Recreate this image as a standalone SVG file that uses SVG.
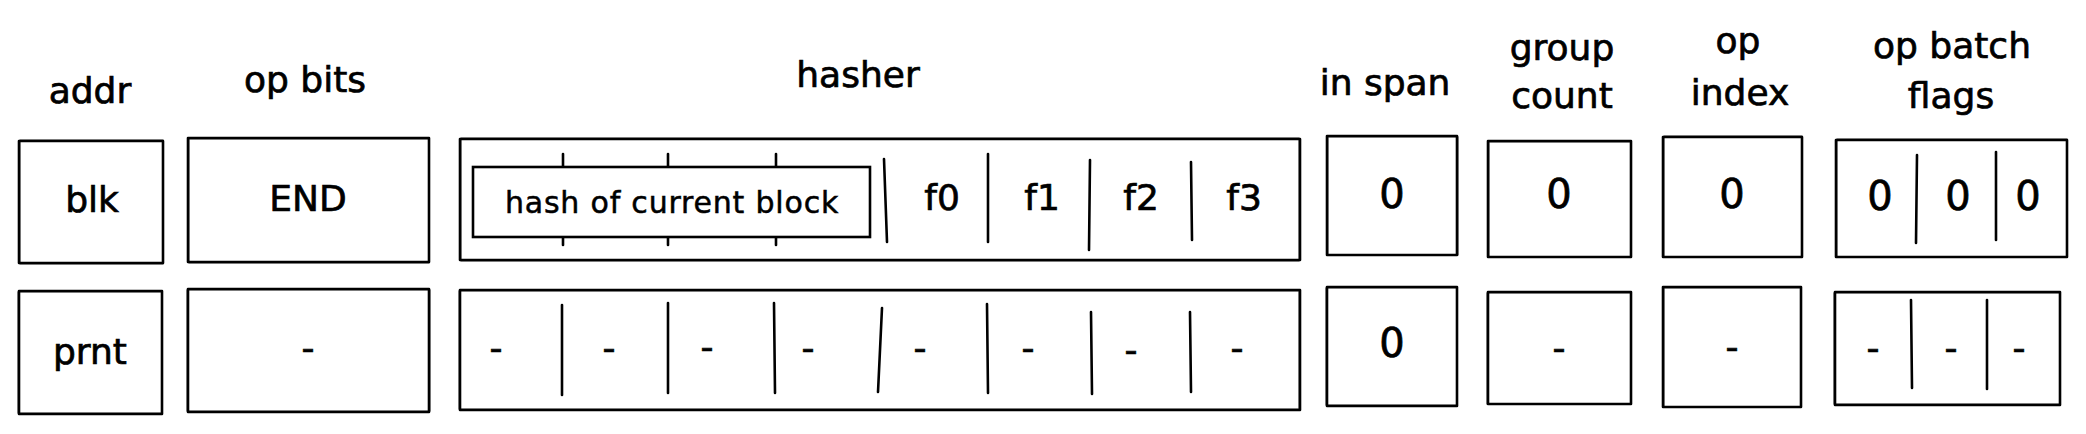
<svg xmlns="http://www.w3.org/2000/svg" width="2086" height="434" viewBox="0 0 2086 434">
<style>
.bg{fill:#ffffff}
.box{fill:none;stroke:#000;stroke-width:2.6;stroke-linejoin:round}
.box2{fill:none;stroke:#000;stroke-width:1;opacity:0.7}
.inner{fill:#ffffff;stroke:#000;stroke-width:2.6}
.div{stroke:#000;stroke-width:2.6;stroke-linecap:round;fill:none}
.h,.v,.z,.s{font-family:"DejaVu Sans","Open Sans",sans-serif;fill:#000;text-anchor:middle;stroke:#000;stroke-width:0.7}
.h{font-size:36px}
.v{font-size:36px}
.z{font-size:40px}
.s{font-size:30px;letter-spacing:0.8px;stroke-width:0.5}
</style>
<rect class="bg" x="0" y="0" width="2086" height="434"/>

<g id="headers">
<text class="h" x="90" y="103">addr</text>
<text class="h" x="305" y="92">op bits</text>
<text class="h" x="858" y="87">hasher</text>
<text class="h" x="1385" y="95">in span</text>
<text class="h" x="1562" y="60">group</text>
<text class="h" x="1562" y="108">count</text>
<text class="h" x="1738" y="53">op</text>
<text class="h" x="1740" y="105">index</text>
<text class="h" x="1952" y="58">op batch</text>
<text class="h" x="1951" y="108">flags</text>
</g>

<g id="addr-blk">
<rect class="box" x="19" y="141" width="144" height="122"/>
<rect class="box2" x="20" y="140" width="143" height="124"/>
<text class="v" x="92" y="212">blk</text>
</g>
<g id="addr-prnt">
<rect class="box" x="19" y="291" width="143" height="123"/>
<rect class="box2" x="18" y="292" width="144" height="121"/>
<text class="v" x="90" y="364">prnt</text>
</g>

<g id="opbits-1">
<rect class="box" x="188" y="138" width="241" height="124"/>
<rect class="box2" x="189" y="139" width="240" height="124"/>
<text class="v" x="308" y="211">END</text>
</g>
<g id="opbits-2">
<rect class="box" x="188" y="289" width="241" height="123"/>
<rect class="box2" x="187" y="290" width="243" height="121"/>
<text class="v" x="308" y="360">-</text>
</g>

<g id="hasher-1">
<rect class="box" x="460" y="139" width="840" height="121"/>
<rect class="box2" x="461" y="138" width="838" height="123"/>
<line class="div" x1="563" y1="154" x2="563" y2="245"/>
<line class="div" x1="668" y1="154" x2="668" y2="245"/>
<line class="div" x1="776" y1="154" x2="776" y2="245"/>
<rect class="inner" x="473" y="167" width="397" height="70"/>
<text class="s" x="672" y="213">hash of current block</text>
<line class="div" x1="884" y1="159" x2="887" y2="242"/>
<line class="div" x1="988" y1="154" x2="988" y2="242"/>
<line class="div" x1="1090" y1="160" x2="1089" y2="250"/>
<line class="div" x1="1191" y1="162" x2="1192" y2="240"/>
<text class="v" x="942" y="210">f0</text>
<text class="v" x="1042" y="210">f1</text>
<text class="v" x="1141" y="210">f2</text>
<text class="v" x="1244" y="210">f3</text>
</g>
<g id="hasher-2">
<rect class="box" x="460" y="290" width="840" height="120"/>
<rect class="box2" x="459" y="291" width="840" height="118"/>
<line class="div" x1="562" y1="305" x2="562" y2="395"/>
<line class="div" x1="668" y1="303" x2="668" y2="393"/>
<line class="div" x1="774" y1="303" x2="775" y2="393"/>
<line class="div" x1="882" y1="308" x2="878" y2="392"/>
<line class="div" x1="987" y1="304" x2="988" y2="393"/>
<line class="div" x1="1091" y1="312" x2="1092" y2="394"/>
<line class="div" x1="1190" y1="312" x2="1191" y2="392"/>
<text class="v" x="496" y="360">-</text>
<text class="v" x="609" y="360">-</text>
<text class="v" x="707" y="359">-</text>
<text class="v" x="808" y="360">-</text>
<text class="v" x="920" y="360">-</text>
<text class="v" x="1028" y="360">-</text>
<text class="v" x="1131" y="362">-</text>
<text class="v" x="1237" y="360">-</text>
</g>

<g id="inspan-1">
<rect class="box" x="1327" y="136" width="130" height="119"/>
<rect class="box2" x="1328" y="137" width="130" height="118"/>
<text class="z" x="1392" y="208">0</text>
</g>
<g id="inspan-2">
<rect class="box" x="1327" y="287" width="130" height="119"/>
<rect class="box2" x="1326" y="288" width="131" height="117"/>
<text class="z" x="1392" y="357">0</text>
</g>

<g id="groupcount-1">
<rect class="box" x="1488" y="141" width="143" height="116"/>
<rect class="box2" x="1489" y="142" width="142" height="115"/>
<text class="z" x="1559" y="208">0</text>
</g>
<g id="groupcount-2">
<rect class="box" x="1488" y="292" width="143" height="112"/>
<rect class="box2" x="1487" y="293" width="144" height="111"/>
<text class="v" x="1559" y="360">-</text>
</g>

<g id="opindex-1">
<rect class="box" x="1663" y="137" width="139" height="120"/>
<rect class="box2" x="1664" y="136" width="138" height="121"/>
<text class="z" x="1732" y="208">0</text>
</g>
<g id="opindex-2">
<rect class="box" x="1663" y="287" width="138" height="120"/>
<rect class="box2" x="1664" y="288" width="137" height="119"/>
<text class="v" x="1732" y="359">-</text>
</g>

<g id="flags-1">
<rect class="box" x="1836" y="140" width="231" height="117"/>
<rect class="box2" x="1837" y="139" width="230" height="118"/>
<line class="div" x1="1917" y1="155" x2="1916" y2="243"/>
<line class="div" x1="1996" y1="152" x2="1996" y2="240"/>
<text class="z" x="1880" y="210">0</text>
<text class="z" x="1958" y="210">0</text>
<text class="z" x="2028" y="210">0</text>
</g>
<g id="flags-2">
<rect class="box" x="1835" y="292" width="225" height="113"/>
<rect class="box2" x="1834" y="293" width="226" height="111"/>
<line class="div" x1="1911" y1="300" x2="1912" y2="388"/>
<line class="div" x1="1987" y1="300" x2="1987" y2="389"/>
<text class="v" x="1873" y="360">-</text>
<text class="v" x="1951" y="360">-</text>
<text class="v" x="2019" y="360">-</text>
</g>
</svg>
